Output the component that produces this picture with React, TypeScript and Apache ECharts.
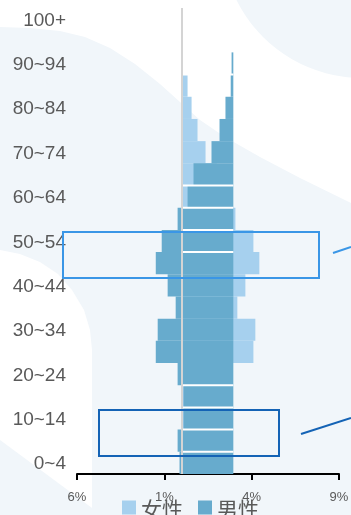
import React, { useEffect, useRef } from 'react';
import * as echarts from 'echarts';

// Age groups, bottom to top
const ages = [
  '0~4', '5~9', '10~14', '15~19', '20~24', '25~29', '30~34', '35~39', '40~44', '45~49',
  '50~54', '55~59', '60~64', '65~69', '70~74', '75~79', '80~84', '85~89', '90~94', '95~99', '100+',
];
// 女性 (%), bars grow from 0 to the right
const female = [2.6, 2.7, 2.6, 2.6, 2.8, 4.1, 4.21, 3.18, 3.64, 4.44, 4.1, 3.07, 2.5, 2.0, 1.36, 0.9, 0.56, 0.33, 0.05, 0, 0];
// 男性 (%), bars grow leftwards from the fixed edge value
const male = [3.08, 3.19, 2.85, 2.85, 3.19, 4.44, 4.33, 3.3, 3.76, 4.44, 4.1, 3.19, 2.62, 2.28, 1.25, 0.79, 0.45, 0.15, 0.1, 0, 0];
const maleEdge = 2.95;
// rows showing a separator line on top of the male bar
const separatorRows = ['0~4', '5~9', '10~14', '15~19', '45~49', '50~54', '55~59', '60~64', '85~89'];
const xMin = -6;
const xMax = 9;
const xInterval = 5;
const legendNames = ['女性', '男性'];

const LIGHT = '#a6d0ee';
const DARK = '#67abcd';
const TEXT = '#595959';

export default function App() {
  const ref = useRef<HTMLDivElement>(null);
  useEffect(() => {
    document.body.style.margin = '0';
    const chart = echarts.init(ref.current!, null, { renderer: 'svg' });
    const base = male.map((m) => +(maleEdge - m).toFixed(3));
    const sepData = separatorRows.map((r) => [maleEdge, ages.indexOf(r)]);
    const option: any = {
      animation: false,
      backgroundColor: 'transparent',
      grid: { left: 77, right: 12, top: 8, bottom: 41, containLabel: false, outerBoundsMode: 'none' },
      legend: {
        data: legendNames,
        left: 122,
        top: 497,
        padding: 0,
        icon: 'rect',
        itemWidth: 14,
        itemHeight: 14,
        itemGap: 15,
        textStyle: { fontSize: 21, color: TEXT, fontFamily: 'Noto Sans CJK SC' },
      },
      xAxis: {
        type: 'value',
        min: xMin,
        max: xMax,
        interval: xInterval,
        axisLine: { show: true, lineStyle: { color: '#000', width: 2 } },
        axisTick: { show: true, length: 6, lineStyle: { color: '#000', width: 2 } },
        splitLine: { show: false },
        axisLabel: {
          color: TEXT,
          fontSize: 13,
          margin: 16,
          fontFamily: 'Liberation Sans',
          formatter: (v: number) => Math.abs(v) + '%',
        },
      },
      yAxis: {
        type: 'category',
        data: ages,
        axisLine: { show: false },
        axisTick: { show: false },
        splitLine: { show: false },
        axisLabel: { interval: 1, color: TEXT, fontSize: 19, margin: 11, fontFamily: 'Liberation Sans' },
      },
      graphic: [
        { type: 'rect', z: -10, silent: true, shape: { x: 0, y: 0, width: 351, height: 515 }, style: { fill: '#f1f6fa' } },
        {
          type: 'polygon', z: -9, silent: true,
          shape: {
            points: [[0, 0], [351, 0], [351, 203], [300, 178], [260, 157], [225, 137], [200, 120], [180, 102],
              [160, 84], [135, 64], [110, 48], [85, 37], [60, 31], [30, 28], [0, 27]],
          },
          style: { fill: '#ffffff' },
        },
        { type: 'circle', z: -8, silent: true, shape: { cx: 362, cy: -62, r: 140 }, style: { fill: '#f1f6fa' } },
        {
          type: 'polygon', z: -9, silent: true,
          shape: {
            points: [[0, 250], [20, 254], [40, 262], [58, 274], [72, 290], [84, 310], [90, 330], [92, 350],
              [92, 508], [0, 440]],
          },
          style: { fill: '#ffffff' },
        },
        { type: 'rect', z: 100, silent: true, shape: { x: 63, y: 232, width: 256, height: 46 }, style: { fill: 'none', stroke: '#3a96e6', lineWidth: 2 } },
        { type: 'line', z: 100, silent: true, shape: { x1: 333, y1: 253, x2: 351, y2: 247 }, style: { stroke: '#3a96e6', lineWidth: 2 } },
        { type: 'rect', z: 100, silent: true, shape: { x: 99, y: 410, width: 180, height: 46 }, style: { fill: 'none', stroke: '#1463b5', lineWidth: 2 } },
        { type: 'line', z: 100, silent: true, shape: { x1: 301, y1: 434, x2: 351, y2: 418 }, style: { stroke: '#1463b5', lineWidth: 2 } },
      ],
      series: [
        {
          name: '女性',
          type: 'bar',
          data: female,
          barGap: '-100%',
          barCategoryGap: '0%',
          itemStyle: { color: LIGHT },
          z: 2,
        },
        {
          name: 'base',
          type: 'bar',
          stack: 'm',
          stackStrategy: 'all',
          data: base,
          barGap: '-100%',
          barCategoryGap: '0%',
          itemStyle: { color: 'rgba(0,0,0,0)' },
          silent: true,
          z: 3,
        },
        {
          name: '男性',
          type: 'bar',
          stack: 'm',
          stackStrategy: 'all',
          data: male,
          barGap: '-100%',
          barCategoryGap: '0%',
          itemStyle: { color: DARK },
          z: 3,
        },
        {
          type: 'custom',
          silent: true,
          z: 4,
          data: sepData,
          encode: { x: 0, y: 1 },
          renderItem: (params: any, api: any) => {
            const yi = api.value(1);
            const p0 = api.coord([0, yi]);
            const p1 = api.coord([api.value(0), yi]);
            const h = api.size([0, 1])[1];
            const top = p0[1] - h / 2;
            return {
              type: 'line',
              shape: { x1: p0[0], y1: top, x2: p1[0], y2: top },
              style: { stroke: '#ffffff', lineWidth: 2 },
            };
          },
        },
        {
          type: 'line',
          data: [],
          silent: true,
          z: 5,
          markLine: {
            silent: true,
            symbol: ['none', 'none'],
            label: { show: false },
            lineStyle: { color: '#d4d4d4', width: 2, type: 'solid' },
            data: [{ xAxis: 0 }],
          },
        },
      ],
    };
    chart.setOption(option);
    return () => chart.dispose();
  }, []);
  return <div ref={ref} style={{ width: 351, height: 515, position: 'fixed', left: 0, top: 0 }} />;
}
